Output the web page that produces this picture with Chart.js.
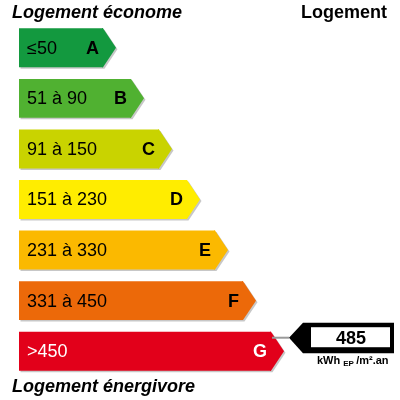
<!DOCTYPE html>
<html>
<head>
<meta charset="utf-8">
<script src="https://cdn.jsdelivr.net/npm/chart.js@4"></script>
<style>
  body { margin: 0; background: #fff; }
</style>
</head>
<body>
<canvas id="dpe" width="400" height="400"></canvas>
<script>
'use strict';

///////////////////////
//// Data /////////////

const classes = ['A', 'B', 'C', 'D', 'E', 'F', 'G'];
const plages = ['≤50', '51 à 90', '91 à 150', '151 à 230', '231 à 330', '331 à 450', '>450'];
const rang = [1, 2, 3, 4, 5, 6, 7];
const seuils = [50, 90, 150, 230, 330, 450];
const couleurs = ['#13993f', '#50b131', '#c9d300', '#ffed00', '#fbb900', '#ec6909', '#e2001a'];
const couleursTexte = ['#000', '#000', '#000', '#000', '#000', '#000', '#fff'];
const consommation = 485;

const FONT = '"Liberation Sans", Arial, sans-serif';
const TIP = 13;

// class of the value
let classeIdx = seuils.findIndex(s => consommation <= s);
if (classeIdx < 0) classeIdx = classes.length - 1;

const arrowTip = function (ctx, bar, color) {
  const top = bar.y - bar.height / 2;
  const bottom = bar.y + bar.height / 2;
  ctx.fillStyle = color;
  ctx.beginPath();
  ctx.moveTo(bar.x - 1, top);
  ctx.lineTo(bar.x, top);
  ctx.lineTo(bar.x + TIP, bar.y);
  ctx.lineTo(bar.x, bottom);
  ctx.lineTo(bar.x - 1, bottom);
  ctx.closePath();
  ctx.fill();
};

///////////////////////
//// Plugin ///////////

const etiquette = {
  id: 'etiquette',
  beforeDatasetsDraw(chart) {
    const ctx = chart.ctx;
    const bars = chart.getDatasetMeta(0).data;
    ctx.save();
    bars.forEach(function (bar) {
      const top = bar.y - bar.height / 2;
      const bottom = bar.y + bar.height / 2;
      ctx.fillStyle = 'rgba(0,0,0,0.22)';
      ctx.beginPath();
      ctx.moveTo(bar.base + 1.5, top + 1.5);
      ctx.lineTo(bar.x + 1.5, top + 1.5);
      ctx.lineTo(bar.x + TIP + 1.5, bar.y + 1.5);
      ctx.lineTo(bar.x + 1.5, bottom + 1.5);
      ctx.lineTo(bar.base + 1.5, bottom + 1.5);
      ctx.closePath();
      ctx.fill();
    });
    ctx.restore();
  },
  afterDatasetsDraw(chart) {
    const ctx = chart.ctx;
    const bars = chart.getDatasetMeta(0).data;
    ctx.save();
    bars.forEach(function (bar, i) {
      arrowTip(ctx, bar, couleurs[i]);
      ctx.fillStyle = couleursTexte[i];
      ctx.textBaseline = 'middle';
      ctx.textAlign = 'left';
      ctx.font = '18px ' + FONT;
      ctx.fillText(plages[i], bar.base + 8, bar.y + 1);
      ctx.textAlign = 'right';
      ctx.font = 'bold 18px ' + FONT;
      ctx.fillText(classes[i], bar.x - 4, bar.y + 1);
    });

    // indicator
    const g = bars[classeIdx];
    const cy = g.y - 13.5;
    const tipX = g.x + TIP + 5;
    ctx.strokeStyle = '#9a9a9a';
    ctx.lineWidth = 2;
    ctx.beginPath();
    ctx.moveTo(g.x + 1, cy);
    ctx.lineTo(tipX, cy);
    ctx.stroke();

    ctx.fillStyle = '#000';
    ctx.beginPath();
    ctx.moveTo(tipX, cy);
    ctx.lineTo(tipX + 14, cy - 15);
    ctx.lineTo(394, cy - 15);
    ctx.lineTo(394, cy + 15.5);
    ctx.lineTo(tipX + 14, cy + 15.5);
    ctx.closePath();
    ctx.fill();
    ctx.fillStyle = '#fff';
    ctx.fillRect(311, cy - 10.5, 79, 20);
    ctx.fillStyle = '#000';
    ctx.textAlign = 'center';
    ctx.textBaseline = 'middle';
    ctx.font = 'bold 18px ' + FONT;
    ctx.fillText(String(consommation), 351, cy + 1);

    ctx.textAlign = 'left';
    ctx.textBaseline = 'alphabetic';
    ctx.font = 'bold 11px ' + FONT;
    let x = 317;
    const yb = cy + 26;
    ctx.fillText('kWh ', x, yb);
    x += ctx.measureText('kWh ').width;
    ctx.font = 'bold 8px ' + FONT;
    ctx.fillText('EP', x, yb + 2);
    x += ctx.measureText('EP ').width;
    ctx.font = 'bold 11px ' + FONT;
    ctx.fillText('/m².an', x, yb);

    // titles
    ctx.font = 'italic bold 18px ' + FONT;
    ctx.fillText('Logement économe', 12, 18);
    ctx.fillText('Logement énergivore', 12, 392);
    ctx.font = 'bold 18px ' + FONT;
    ctx.textAlign = 'right';
    ctx.fillText('Logement', 387, 18);
    ctx.restore();
  }
};

///////////////////////
//// Chart ////////////

const ctx = document.getElementById('dpe').getContext('2d');
const chart = new Chart(ctx, {
  type: 'bar',
  data: {
    labels: classes,
    datasets: [{
      data: rang,
      base: -2,
      backgroundColor: couleurs,
      borderWidth: 0,
      barPercentage: 0.77,
      categoryPercentage: 1
    }]
  },
  options: {
    indexAxis: 'y',
    responsive: false,
    animation: false,
    layout: {
      padding: { left: 19, right: 73, top: 22.5, bottom: 23.5 }
    },
    plugins: {
      legend: { display: false },
      tooltip: { enabled: false }
    },
    scales: {
      x: { display: false, min: -2, max: 9 },
      y: { display: false }
    }
  },
  plugins: [etiquette]
});
</script>
</body>
</html>
